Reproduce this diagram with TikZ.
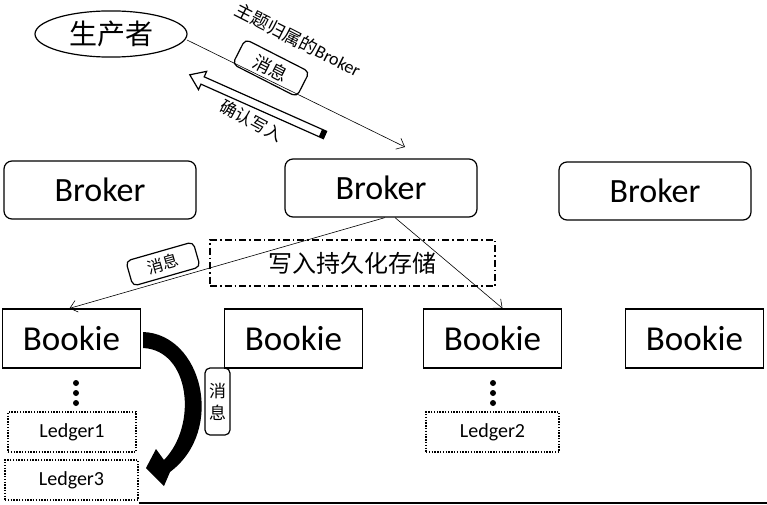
\documentclass[tikz,border=0pt]{standalone}
\usepackage{fontspec}
\setmainfont{Carlito}
\newfontfamily\cjk{Noto Sans CJK SC}
\usetikzlibrary{arrows.meta, shapes.geometric}

\begin{document}
\begin{tikzpicture}[x=1pt, y=-1pt,
    broker/.style={draw, line width=1.2pt, rounded corners=8pt, minimum width=192pt, minimum height=58pt, font=\fontsize{34}{36}\selectfont},
    bookie/.style={draw, line width=1.3pt, minimum width=138pt, minimum height=59pt, font=\fontsize{35}{38}\selectfont},
    ledger/.style={draw, line width=1.4pt, dash pattern=on 1.4pt off 1.4pt, minimum height=40pt, font=\fontsize{20}{22}\selectfont},
    msg/.style={draw, line width=1.2pt, rounded corners=5pt, inner sep=1pt, font=\cjk\fontsize{17}{21}\selectfont},
    link/.style={line width=0.6pt, -{Straight Barb[length=7pt, width=12pt]}},
    dot/.style={circle, fill, inner sep=0pt, minimum size=6pt}]
    \useasboundingbox (0,0) rectangle (767,505);

    % producer and its message to the broker
    \node[ellipse, draw, line width=1.2pt, minimum width=152pt, minimum height=42pt, font=\cjk\fontsize{28}{30}\selectfont] (prod) at (111,34) {生产者};
    \coordinate (bt) at (405,147);
    \draw[link] (187,40) -- (bt);
    \node[rotate=-27, inner sep=0pt, font=\fontsize{18}{20}\selectfont] (topic) at (298,40) {{\cjk 主题归属的}Broker};
    \node[msg, rotate=-27, minimum width=72pt, minimum height=28pt, font=\cjk\fontsize{18}{21}\selectfont] (m1) at (271,68) {消息};

    % hollow acknowledge arrow
    \begin{scope}[shift={(325,135)}, rotate=156]
        \draw[line width=1.2pt, fill=white] (0,-4) -- (134,-4) -- (134,-10) -- (148,0) -- (134,10) -- (134,4) -- (0,4) -- cycle;
        \fill (0,-4) rectangle (5,4);
    \end{scope}
    \node[rotate=-28, inner sep=0pt, font=\cjk\fontsize{17}{20}\selectfont] (ack) at (252,121) {确认写入};

    % brokers
    \node[broker] (br1) at (100,190) {Broker};
    \node[broker] (br2) at (381,188) {Broker};
    \node[broker] (br3) at (655,191) {Broker};

    % bookies
    \node[bookie] (bk1) at (71.5,338.5) {Bookie};
    \node[bookie] (bk2) at (293.5,338.5) {Bookie};
    \node[bookie] (bk3) at (492.5,338.5) {Bookie};
    \node[bookie] (bk4) at (694.5,338.5) {Bookie};

    % persistent write
    \node[draw, line width=1.6pt, dash pattern=on 7pt off 3pt on 1.5pt off 3pt, minimum width=285pt, minimum height=46pt, font=\cjk\fontsize{24}{26}\selectfont] (store) at (352.5,263) {写入持久化存储};
    \draw[link] ([xshift=4pt]br2.south) -- ([xshift=-2pt]bk1.north);
    \draw[link] ([xshift=14pt]br2.south) -- ([xshift=10pt]bk3.north);
    \node[msg, rotate=16, minimum width=70pt, minimum height=26pt, font=\cjk\fontsize{16}{18}\selectfont] (m2) at (163,264) {消息};

    % ledgers
    \foreach \i/\y in {1/383, 2/393, 3/403} {
        \node[dot] (da\i) at (76,\y) {};
        \node[dot] (db\i) at (493,\y) {};
    }
    \node[ledger, minimum width=128pt] (l1) at (72,432) {Ledger1};
    \node[ledger, minimum width=133pt] (l3) at (71.5,480) {Ledger3};
    \node[ledger, minimum width=133pt] (l2) at (492.5,432) {Ledger2};

    % message moved to ledger3
    \fill (143,332) .. controls (202,334) and (226,430) .. (170,472) -- (164,486) -- (146,468) -- (156,449) -- (164,460) .. controls (198,425) and (190,350) .. (143,348) -- cycle;
    \node[msg, align=center, minimum width=25pt, minimum height=67pt, font=\cjk\fontsize{17}{22}\selectfont] (m3) at (217.5,401.5) {消\\息};

    \draw[line width=2pt] (l3.east |- 0,503) -- (767,503);
\end{tikzpicture}
\end{document}
